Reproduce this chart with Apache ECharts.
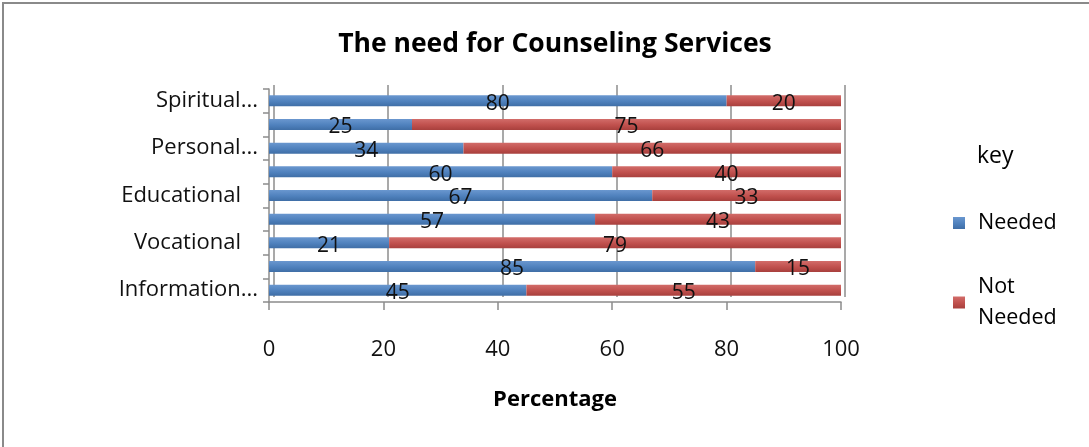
<!DOCTYPE html>
<html>
<head>
<meta charset="utf-8">
<script src="https://cdn.jsdelivr.net/npm/echarts@6/dist/echarts.min.js"></script>
<style>
  html, body { margin: 0; padding: 0; background: #fff; }
  #chart { width: 1089px; height: 447px; }
</style>
</head>
<body>
<div id="chart"></div>
<script>
// Counseling service areas, listed bottom to top
const categories = [
  'Information...', 'Career', 'Vocational', 'Health', 'Educational',
  'Family', 'Personal...', 'Social', 'Spiritual...'
];
// Share of respondents (%) per area
const needed    = [45, 85, 21, 57, 67, 60, 34, 25, 80];
const notNeeded = [55, 15, 79, 43, 33, 40, 66, 75, 20];
const xTicks = [0, 20, 40, 60, 80, 100];

const FONT = '"Open Sans", "Noto Sans", sans-serif';
const BLUE = '#4F81BD';
const RED = '#C0504D';
const AXIS_GREY = '#8c8c8c';

function barFill(base, light, dark) {
  return new echarts.graphic.LinearGradient(0, 0, 0, 1, [
    { offset: 0, color: light },
    { offset: 0.55, color: base },
    { offset: 1, color: dark }
  ]);
}

const chart = echarts.init(document.getElementById('chart'), null, { renderer: 'canvas' });

const labelStyle = {
  show: true,
  position: 'inside',
  color: '#111',
  fontFamily: FONT,
  fontSize: 21,
  offset: [0, 3]
};

const catText = { fontFamily: FONT, fontSize: 22, color: '#111' };

chart.setOption({
  animation: false,
  backgroundColor: '#fff',
  title: [
    {
      text: 'The need for Counseling Services',
      left: 555,
      textAlign: 'center',
      top: 31,
      padding: 0,
      textStyle: { fontFamily: FONT, fontWeight: 'bold', fontSize: 26.5, color: '#000' }
    },
    {
      text: 'key',
      left: 977,
      top: 145,
      padding: 0,
      textStyle: { fontFamily: FONT, fontWeight: 'normal', fontSize: 23, color: '#000' }
    }
  ],
  legend: [
    {
      data: [{ name: 'Needed', icon: 'rect' }],
      left: 948,
      top: 207,
      itemWidth: 12,
      itemHeight: 12,
      textStyle: { fontFamily: FONT, fontSize: 21.5, color: '#000', padding: [0, 0, 0, 8] }
    },
    {
      data: [{ name: 'Not Needed', icon: 'rect' }],
      left: 948,
      top: 251,
      itemWidth: 12,
      itemHeight: 12,
      formatter: name => name.replace(' ', '\n'),
      textStyle: {
        fontFamily: FONT, fontSize: 21.5, color: '#000',
        lineHeight: 31, padding: [31, 0, 0, 8]
      }
    }
  ],
  grid: [
    // front plane: bars, floor axis, category axis
    { left: 269, right: 248, top: 89, bottom: 145, containLabel: false },
    // back wall: gridlines set slightly up and to the right
    { left: 274, right: 244, top: 85, bottom: 150, containLabel: false }
  ],
  xAxis: [
    {
      type: 'value',
      gridIndex: 0,
      min: xTicks[0],
      max: xTicks[xTicks.length - 1],
      interval: 20,
      name: 'Percentage',
      nameLocation: 'middle',
      nameGap: 87,
      nameTextStyle: { fontFamily: FONT, fontWeight: 'bold', fontSize: 22, color: '#000' },
      axisLine: { show: true, lineStyle: { color: AXIS_GREY, width: 1.5 } },
      axisTick: { show: true, length: 8, lineStyle: { color: AXIS_GREY, width: 1.5 } },
      axisLabel: { margin: 37, fontFamily: FONT, fontSize: 22, color: '#111' },
      splitLine: { show: false }
    },
    {
      type: 'value',
      gridIndex: 1,
      min: xTicks[0],
      max: xTicks[xTicks.length - 1],
      interval: 20,
      axisLine: { show: false },
      axisTick: { show: false },
      axisLabel: { show: false },
      splitLine: { show: true, lineStyle: { color: AXIS_GREY, width: 1.5 } }
    }
  ],
  yAxis: [
    {
      type: 'category',
      gridIndex: 0,
      data: categories,
      boundaryGap: true,
      axisLine: { show: true, lineStyle: { color: AXIS_GREY, width: 1.5 } },
      axisTick: { show: true, length: 6, interval: 0, lineStyle: { color: AXIS_GREY, width: 1.5 } },
      axisLabel: {
        interval: 1,
        margin: 11,
        formatter: v => v.endsWith('...') ? '{c|' + v + '}' : '{p|' + v + '}',
        rich: {
          c: catText,
          p: Object.assign({ padding: [0, 17, 0, 0] }, catText)
        }
      }
    },
    {
      type: 'category',
      gridIndex: 1,
      data: categories,
      show: false
    }
  ],
  series: [
    {
      name: 'Needed',
      type: 'bar',
      stack: 'total',
      barWidth: 11,
      data: needed,
      itemStyle: { color: barFill(BLUE, '#6a97cf', '#3f6ea6') },
      label: labelStyle
    },
    {
      name: 'Not Needed',
      type: 'bar',
      stack: 'total',
      barWidth: 11,
      data: notNeeded,
      itemStyle: { color: barFill(RED, '#d26c69', '#a8403d') },
      label: labelStyle
    }
  ],
  graphic: [
    {
      type: 'rect',
      shape: { x: 3, y: 3, width: 1200, height: 600 },
      style: { fill: 'none', stroke: '#8a8a8a', lineWidth: 2 },
      silent: true
    }
  ]
});
</script>
</body>
</html>
